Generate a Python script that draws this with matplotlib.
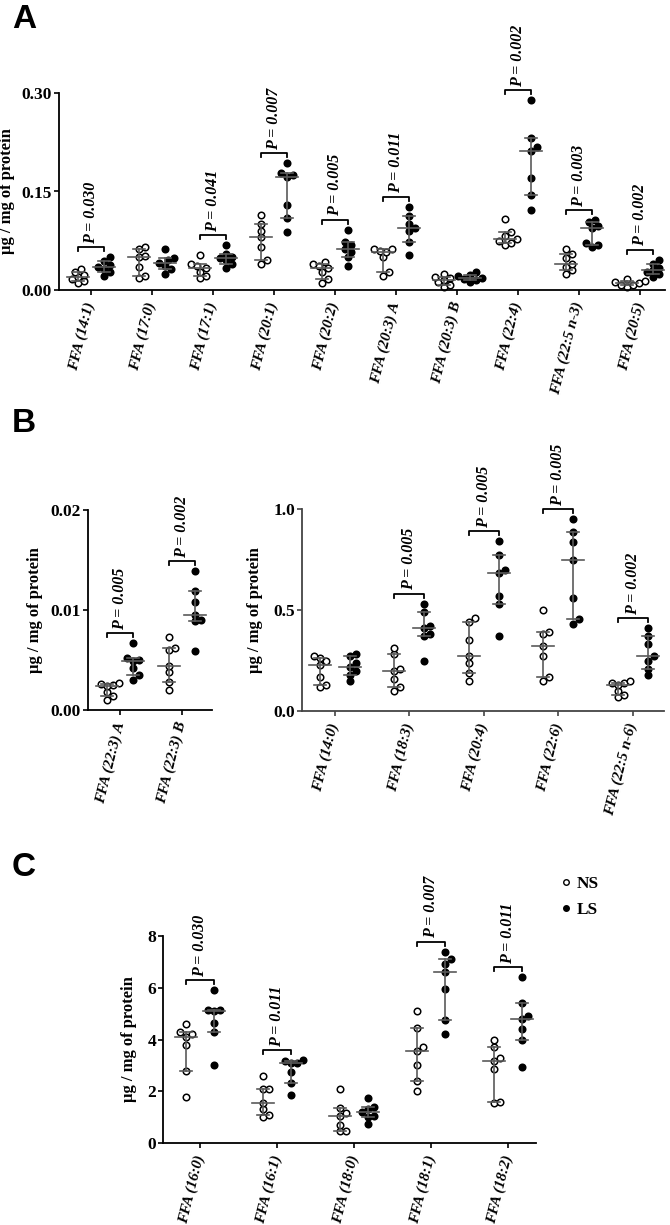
import numpy as np
import matplotlib
matplotlib.use("Agg")
import matplotlib.pyplot as plt
from matplotlib.lines import Line2D

plt.rcParams['font.family'] = ['Liberation Serif', 'DejaVu Serif']
plt.rcParams['font.weight'] = 'bold'

# ---- panel A ----
cats_a = ['FFA (14:1)', 'FFA (17:0)', 'FFA (17:1)', 'FFA (20:1)', 'FFA (20:2)',
          'FFA (20:3) A', 'FFA (20:3) B', 'FFA (22:4)', 'FFA (22:5 n-3)', 'FFA (20:5)']
ns_a = [[0.010, 0.013, 0.017, 0.020, 0.023, 0.028, 0.032],
        [0.018, 0.022, 0.035, 0.050, 0.052, 0.063, 0.066],
        [0.018, 0.022, 0.028, 0.033, 0.036, 0.040, 0.053],
        [0.040, 0.045, 0.065, 0.080, 0.090, 0.100, 0.114],
        [0.010, 0.017, 0.028, 0.033, 0.036, 0.040, 0.043],
        [0.022, 0.028, 0.050, 0.058, 0.060, 0.062, 0.063],
        [0.005, 0.008, 0.012, 0.015, 0.018, 0.020, 0.025],
        [0.068, 0.072, 0.075, 0.077, 0.082, 0.088, 0.108],
        [0.025, 0.030, 0.035, 0.040, 0.048, 0.055, 0.063],
        [0.005, 0.007, 0.008, 0.010, 0.012, 0.013, 0.016]]
ls_a = [[0.022, 0.027, 0.032, 0.035, 0.038, 0.044, 0.050],
        [0.025, 0.032, 0.036, 0.041, 0.045, 0.048, 0.062],
        [0.033, 0.040, 0.045, 0.048, 0.050, 0.055, 0.068],
        [0.089, 0.110, 0.130, 0.172, 0.175, 0.178, 0.193],
        [0.037, 0.050, 0.058, 0.063, 0.068, 0.073, 0.092],
        [0.053, 0.073, 0.090, 0.095, 0.100, 0.112, 0.127],
        [0.012, 0.015, 0.017, 0.019, 0.021, 0.023, 0.027],
        [0.122, 0.145, 0.170, 0.212, 0.218, 0.231, 0.289],
        [0.065, 0.068, 0.072, 0.094, 0.098, 0.103, 0.106],
        [0.020, 0.024, 0.027, 0.030, 0.034, 0.040, 0.046]]
p_a = ['0.030', None, '0.041', '0.007', '0.005', '0.011', None, '0.002', '0.003', '0.002']

# ---- panel B (left) ----
cats_b1 = ['FFA (22:3) A', 'FFA (22:3) B']
ns_b1 = [[0.0010, 0.0014, 0.0018, 0.0024, 0.0025, 0.0026, 0.0027],
         [0.0020, 0.0028, 0.0038, 0.0044, 0.0060, 0.0062, 0.0073]]
ls_b1 = [[0.0030, 0.0035, 0.0042, 0.0049, 0.0050, 0.0052, 0.0067],
         [0.0059, 0.0089, 0.0090, 0.0095, 0.0108, 0.0119, 0.0139]]
p_b1 = ['0.005', '0.002']

# ---- panel B (right) ----
cats_b2 = ['FFA (14:0)', 'FFA (18:3)', 'FFA (20:4)', 'FFA (22:6)', 'FFA (22:5 n-6)']
ns_b2 = [[0.12, 0.13, 0.17, 0.23, 0.25, 0.26, 0.27],
         [0.10, 0.12, 0.16, 0.20, 0.21, 0.28, 0.31],
         [0.15, 0.19, 0.24, 0.27, 0.35, 0.44, 0.46],
         [0.15, 0.17, 0.27, 0.32, 0.38, 0.39, 0.50],
         [0.07, 0.08, 0.10, 0.13, 0.14, 0.14, 0.15]]
ls_b2 = [[0.15, 0.18, 0.20, 0.22, 0.24, 0.27, 0.28],
         [0.25, 0.37, 0.38, 0.41, 0.42, 0.49, 0.53],
         [0.37, 0.53, 0.57, 0.685, 0.70, 0.77, 0.84],
         [0.43, 0.455, 0.56, 0.746, 0.835, 0.886, 0.95],
         [0.18, 0.21, 0.25, 0.27, 0.33, 0.37, 0.41]]
p_b2 = [None, '0.005', '0.005', '0.005', '0.002']

# ---- panel C ----
cats_c = ['FFA (16:0)', 'FFA (16:1)', 'FFA (18:0)', 'FFA (18:1)', 'FFA (18:2)']
ns_c = [[1.78, 2.8, 3.8, 4.1, 4.2, 4.3, 4.6],
        [1.0, 1.1, 1.3, 1.55, 2.1, 2.1, 2.6],
        [0.45, 0.45, 0.7, 1.05, 1.15, 1.35, 2.08],
        [2.0, 2.4, 3.0, 3.55, 3.7, 4.45, 5.1],
        [1.55, 1.6, 2.85, 3.15, 3.3, 3.7, 4.0]]
ls_c = [[3.0, 4.3, 4.65, 5.1, 5.15, 5.15, 5.9],
        [1.85, 2.3, 2.75, 3.1, 3.1, 3.15, 3.2],
        [0.72, 1.02, 1.05, 1.2, 1.3, 1.4, 1.75],
        [4.2, 4.75, 5.95, 6.6, 6.9, 7.1, 7.4],
        [2.95, 4.0, 4.4, 4.8, 4.9, 5.4, 6.4]]
p_c = ['0.030', '0.011', None, '0.007', '0.011']

W, H = 670, 1225
fig = plt.figure(figsize=(W / 100, H / 100), dpi=100)
GREY = '#5a5a5a'


def add_ax(x0, x1, ytop, ybot):
    return fig.add_axes([x0 / W, 1 - ybot / H, (x1 - x0) / W, (ybot - ytop) / H])


def px_x(ax, px):
    # pixels -> data units along x
    a = ax.transData.inverted().transform([(0, 0), (px, 0)])
    return a[1, 0] - a[0, 0]


def px_y(ax, px):
    a = ax.transData.inverted().transform([(0, 0), (0, px)])
    return a[1, 1] - a[0, 1]


def swarm(ax, x, vals, d=6.0):
    vals = np.asarray(vals)
    pts = ax.transData.transform(np.column_stack([np.full(len(vals), x), vals]))
    placed = []
    xs = np.zeros(len(vals))
    cands = [0.0]
    for k in range(1, 30):
        cands += [k * d * 0.5, -k * d * 0.5]
    for i in np.argsort(vals):
        px, py = pts[i]
        for c in cands:
            if all((px + c - qx) ** 2 + (py - qy) ** 2 >= d * d for qx, qy in placed):
                break
        placed.append((px + c, py))
        xs[i] = px + c
    back = ax.transData.inverted().transform(np.column_stack([xs, pts[:, 1]]))
    return back[:, 0]


def group(ax, x, vals, filled):
    xs = swarm(ax, x, vals)
    ax.scatter(xs, vals, s=22, facecolor='black' if filled else 'white',
               edgecolor='black', linewidth=1.1, zorder=2, clip_on=False)
    q1, med, q3 = np.percentile(vals, [25, 50, 75], method='weibull')
    hm, hc = px_x(ax, 11), px_x(ax, 6)
    ax.plot([x, x], [q1, q3], color=GREY, lw=1.2, zorder=3)
    ax.plot([x - hm, x + hm], [med, med], color=GREY, lw=1.2, zorder=3)
    for q in (q1, q3):
        ax.plot([x - hc, x + hc], [q, q], color=GREY, lw=1.2, zorder=3)


def panel(ax, cats, ns, ls, pv, yticks, ylabels, off_px, label_x, spine='black'):
    off = px_x(ax, off_px)
    drop = px_y(ax, 4)
    gap = px_y(ax, 10)
    for i in range(len(cats)):
        group(ax, i - off, ns[i], False)
        group(ax, i + off, ls[i], True)
        if pv[i] is not None:
            y = max(max(ns[i]), max(ls[i])) + gap
            ax.plot([i - off, i - off, i + off, i + off], [y - drop, y, y, y - drop],
                    color='black', lw=1.3, clip_on=False)
            ax.annotate('P = ' + pv[i], xy=(i, y), xytext=(0, 2.5), textcoords='offset points',
                        rotation=90, ha='center', va='bottom', fontsize=11.5,
                        fontweight='bold', fontstyle='italic', annotation_clip=False)
    ax.set_xticks(range(len(cats)))
    ax.set_xticklabels(cats, rotation=76, ha='right', va='center', rotation_mode='anchor',
                       fontsize=11, fontweight='bold', fontstyle='italic')
    ax.set_yticks(yticks)
    ax.set_yticklabels(ylabels, fontsize=12.5, fontweight='bold')
    ax.tick_params(axis='y', length=3.5, width=1.2, pad=1.5, colors=spine, labelcolor='black')
    ax.tick_params(axis='x', length=3.5, width=1.2, pad=5, colors=spine, labelcolor='black')
    for s in ('top', 'right'):
        ax.spines[s].set_visible(False)
    for s in ('left', 'bottom'):
        ax.spines[s].set_linewidth(1.3)
        ax.spines[s].set_color(spine)
    ax.set_ylabel('µg / mg of protein', fontsize=12, fontweight='bold')
    ax.yaxis.set_label_coords(label_x, 0.5)


ax_a = add_ax(59, 665, 93, 290)
ax_a.set_xlim(-0.52, 9.41)
ax_a.set_ylim(0, 0.30)
panel(ax_a, cats_a, ns_a, ls_a, p_a, [0, 0.15, 0.30], ['0.00', '0.15', '0.30'],
      13, (15 - 59) / 606)

ax_b1 = add_ax(88, 212, 510, 710)
ax_b1.set_xlim(-0.52, 1.48)
ax_b1.set_ylim(0, 0.02)
panel(ax_b1, cats_b1, ns_b1, ls_b1, p_b1, [0, 0.01, 0.02], ['0.00', '0.01', '0.02'],
      13, (43 - 88) / 124)

ax_b2 = add_ax(302, 664, 509, 711)
ax_b2.set_xlim(-0.44, 4.42)
ax_b2.set_ylim(0, 1.0)
panel(ax_b2, cats_b2, ns_b2, ls_b2, p_b2, [0, 0.5, 1.0], ['0.0', '0.5', '1.0'],
      15, (263 - 302) / 362, spine='#444444')

ax_c = add_ax(163, 536, 936, 1143)
ax_c.set_xlim(-0.48, 4.36)
ax_c.set_ylim(0, 8)
panel(ax_c, cats_c, ns_c, ls_c, p_c, [0, 2, 4, 6, 8], ['0', '2', '4', '6', '8'],
      14, (137 - 163) / 373)

handles = [Line2D([], [], ls='none', marker='o', ms=4, mfc='white', mec='black', mew=1.0),
           Line2D([], [], ls='none', marker='o', ms=4, mfc='black', mec='black', mew=1.0)]
ax_c.legend(handles, ['NS', 'LS'], loc='center left', bbox_to_anchor=(552 / W, 1 - 897 / H),
            bbox_transform=fig.transFigure, frameon=False, handlelength=0.6,
            handletextpad=0.3, labelspacing=0.55, borderpad=0,
            prop=dict(family='Liberation Serif', weight='bold', size=12.5))

for letter, y in [('A', 20), ('B', 424), ('C', 867)]:
    fig.text(12 / W, 1 - y / H, letter, fontsize=24, fontweight='bold',
             family='Liberation Sans', ha='left', va='center')

fig.savefig('out.png', dpi=100)
